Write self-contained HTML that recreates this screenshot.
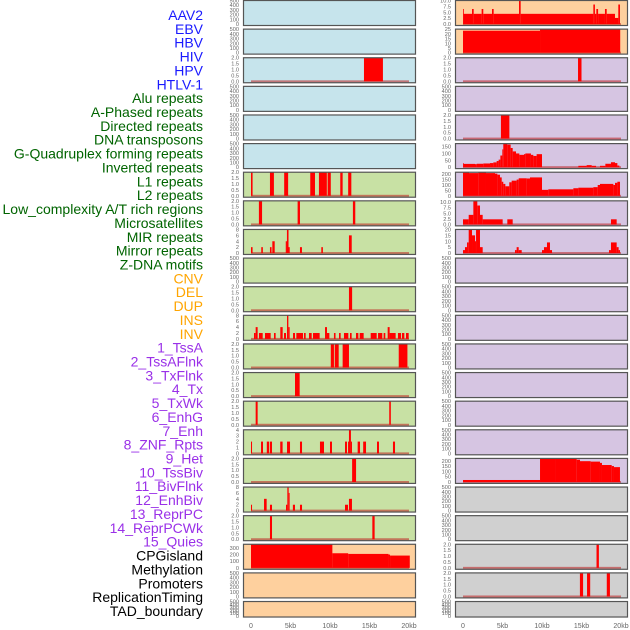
<!DOCTYPE html>
<html><head><meta charset="utf-8">
<style>
html,body{margin:0;padding:0;background:#fff;}
svg{display:block;font-family:"Liberation Sans",sans-serif;}
</style></head>
<body>
<svg id="chart" width="630" height="630" viewBox="0 0 630 630"></svg>
<script>
// ---- data (kb start, kb end, value) ----
const trackLabels = ["AAV2","EBV","HBV","HIV","HPV","HTLV-1","Alu repeats","A-Phased repeats","Directed repeats","DNA transposons","G-Quadruplex forming repeats","Inverted repeats","L1 repeats","L2 repeats","Low_complexity A/T rich regions","Microsatellites","MIR repeats","Mirror repeats","Z-DNA motifs","CNV","DEL","DUP","INS","INV","1_TssA","2_TssAFlnk","3_TxFlnk","4_Tx","5_TxWk","6_EnhG","7_Enh","8_ZNF_Rpts","9_Het","10_TssBiv","11_BivFlnk","12_EnhBiv","13_ReprPC","14_ReprPCWk","15_Quies","CPGisland","Methylation","Promoters","ReplicationTiming","TAD_boundary"];
const labelGroups = ["v","v","v","v","v","v","r","r","r","r","r","r","r","r","r","r","r","r","r","s","s","s","s","s","c","c","c","c","c","c","c","c","c","c","c","c","c","c","c","o","o","o","o","o"];
const xTickLabels = ["0","5kb","10kb","15kb","20kb"];
const xTickValues = [0,5,10,15,20];

const hbvBars = [[14.3,16.7,2]];
const aluBars = [[0,0.2,2],[2.4,2.9,2],[4.2,4.7,2],[7.5,8.1,2],[8.6,9.6,2],[9.7,10.1,2],[11.3,11.6,2],[12.3,12.7,2]];
const aphasedBars = [[1.0,1.4,2],[5.9,6.2,2],[12.9,13.2,2]];
const directedBars = [[0,0.2,2],[1.3,1.5,2],[2.4,2.6,2],[2.7,3.0,4],[4.4,4.55,4],[4.55,4.75,8],[4.75,4.9,2],[6.2,6.45,2],[8.9,9.1,2],[12.4,12.75,6]];
const gquadBars = [[12.4,12.8,2]];
const invertedBars = [[0.38,0.59,2],[0.59,0.84,4],[1.01,1.48,2],[1.77,2.49,2],[2.91,3.12,2],[3.71,4.01,4],[4.18,4.43,2],[4.56,4.73,8],[4.73,4.89,4],[5.32,5.57,2],[5.74,6.58,2],[6.71,6.92,2],[7.34,7.68,2],[7.85,8.69,2],[9.37,9.62,4],[9.62,9.92,2],[10.5,10.7,2],[11.14,11.35,2],[11.77,12.32,2],[12.53,12.74,2],[13.29,13.59,2],[13.76,14.26,2],[15.15,15.91,2],[16.08,16.62,2],[16.79,17.0,2],[17.3,17.55,4],[17.55,18.31,2],[18.6,18.99,2],[19.11,19.41,2],[19.62,19.96,2]];
const l1Bars = [[10.1,10.5,2],[10.6,11.1,2],[11.6,12.4,2],[18.7,19.8,2]];
const l2Bars = [[5.57,6.16,2]];
const lowcompBars = [[0.59,0.84,2],[17.5,17.7,2]];
const microBars = [[0,0.13,2],[1.27,1.52,2],[2.0,2.3,2],[2.4,2.66,2],[3.7,4.0,2],[4.56,4.94,2],[6.2,6.46,2],[8.73,9.24,2],[10.0,10.25,2],[11.9,12.15,2],[12.28,12.4,2],[12.4,12.65,4],[12.65,12.78,2],[13.5,13.8,2],[14.2,14.56,2],[15.95,16.2,2],[17.97,18.23,2]];
const mirBars = [[12.8,13.3,2]];
const mirrorBars = [[0,0.13,2],[1.65,1.98,4],[2.4,2.66,2],[4.43,4.6,2],[4.6,4.77,8],[4.77,4.89,6],[5.3,5.57,2],[6.2,6.46,2],[11.9,12.28,2],[12.4,12.78,4]];
const zdnaBars = [[2.4,2.66,2],[15.36,15.65,2]];
const cnvSteps = [[0,10.3,355],[10.3,12.3,220],[12.3,17.4,210],[17.4,17.6,200],[17.6,20.1,185]];
const insSteps = [[0,0.08,6.4],[0.08,1.14,4.35],[1.14,1.35,6.4],[1.35,2.36,4.35],[2.36,2.57,6.4],[2.57,3.67,4.35],[3.67,3.88,6.4],[3.88,7.09,4.35],[7.09,7.3,10],[7.3,16.5,4.35],[16.5,16.7,8.3],[16.7,16.88,4.35],[16.88,17.1,6.4],[17.1,17.97,4.35],[17.97,18.19,6.4],[18.19,19.24,4.35],[19.24,19.66,2.6],[19.66,19.87,8.3]];
const invSteps = [[0,9.75,23.3],[9.75,19.9,25]];
const tssaBars = [[14.56,15.0,2]];
const txflnkBars = [[4.8,5.87,2]];
const txSteps = [[0,0.08,29],[0.08,1.52,24],[1.52,1.73,22],[1.73,2.57,25],[2.57,3.42,27],[3.42,3.84,30],[3.84,4.26,35],[4.26,4.51,45],[4.51,4.73,55],[4.73,4.98,85],[4.98,5.1,130],[5.1,5.61,172],[5.61,6.03,165],[6.03,6.29,140],[6.29,6.71,115],[6.71,7.13,100],[7.13,7.72,90],[7.72,7.89,95],[7.89,8.6,100],[8.6,8.9,90],[8.9,9.32,82],[9.32,10.0,95],[14.6,15.65,10],[15.65,16.29,15],[16.29,16.84,10],[17.34,18.02,10],[18.02,18.73,25],[18.73,19.24,36],[19.24,19.54,30],[19.54,19.79,12]];
const txwkSteps = [[0,0.76,215],[0.76,1.94,210],[1.94,2.91,215],[2.91,4.05,210],[4.05,4.35,205],[4.35,4.68,195],[4.68,4.9,170],[4.9,5.1,130],[5.1,5.36,110],[5.36,5.86,88],[5.86,6.16,125],[6.16,6.79,140],[6.79,7.05,150],[7.05,8.06,162],[8.06,8.48,160],[8.48,10.0,170],[10.0,10.8,55],[10.8,13.97,60],[13.97,14.6,70],[14.6,16.5,75],[16.5,17.05,80],[17.05,17.34,100],[17.34,19.03,110],[19.03,19.24,100],[19.24,19.54,120],[19.54,19.87,130]];
const enhgSteps = [[0,0.72,2.3],[0.72,1.31,4.3],[1.31,1.81,10.6],[1.81,2.15,8.5],[2.15,2.49,4.3],[2.49,5.02,2.3],[5.61,6.29,2.3],[18.73,19.45,2.3]];
const enhSteps = [[0,0.25,2.5],[0.25,0.51,5],[0.51,0.72,9],[0.72,1.14,20],[1.14,1.52,15],[1.52,1.65,10],[1.65,2.15,20],[2.15,2.49,5],[6.58,6.79,2.5],[6.79,7.05,5],[7.05,7.43,2.5],[10.0,10.25,2.5],[10.25,10.63,5],[10.63,11.01,9],[11.01,11.27,2.5],[18.48,18.73,2.5],[18.73,19.45,9],[19.45,19.7,5],[19.7,19.87,2.5]];
const quiesSteps = [[0,9.75,19],[9.75,11.65,222],[11.65,14.39,218],[14.39,14.81,210],[14.81,16.16,196],[16.16,17.34,192],[17.34,17.59,180],[17.59,18.82,160],[18.82,19.11,150],[19.11,19.87,140]];
const promoterBars = [[16.9,17.2,2]];
const reptimeBars = [[14.8,15.2,2],[15.7,16.1,2],[18.2,18.6,2]];

const ticksEmpty = ["0","100","200","300","400","500"];
const ticks2 = ["0.0","0.5","1.0","1.5","2.0"];
const ticks8 = ["0","2","4","6","8"];
const ticks4 = ["0","1","2","3","4"];
const ticksCnv = ["0","100","200","300"];
const ticksIns = ["0.0","2.5","5.0","7.5","10.0"];
const ticksInv = ["0","5","10","15","20","25"];
const ticksTx = ["0","50","100","150"];
const ticksTxwk = ["0","50","100","150","200"];
const ticksEnhg = ["0.0","2.5","5.0","7.5","10.0"];
const ticksEnh = ["0","5","10","15","20"];

// ---- layout ----
const groupColor = {v:"#1a1aff", r:"#006400", s:"#ffa500", c:"#9a30e8", o:"#000000"};
const bgColor = {v:"#c6e4ec", r:"#c8e1a4", s:"#fed09e", c:"#d6c5e2", o:"#d0d0d0"};
// [col,row,group,ymax,ticks,data]
const panels = [
 [0,0,"v",500,ticksEmpty,null],[0,1,"v",500,ticksEmpty,null],[0,2,"v",2,ticks2,hbvBars],
 [0,3,"v",500,ticksEmpty,null],[0,4,"v",500,ticksEmpty,null],[0,5,"v",500,ticksEmpty,null],
 [0,6,"r",2,ticks2,aluBars],[0,7,"r",2,ticks2,aphasedBars],[0,8,"r",8,ticks8,directedBars],
 [0,9,"r",500,ticksEmpty,null],[0,10,"r",2,ticks2,gquadBars],[0,11,"r",8,ticks8,invertedBars],
 [0,12,"r",2,ticks2,l1Bars],[0,13,"r",2,ticks2,l2Bars],[0,14,"r",2,ticks2,lowcompBars],
 [0,15,"r",4,ticks4,microBars],[0,16,"r",2,ticks2,mirBars],[0,17,"r",8,ticks8,mirrorBars],
 [0,18,"r",2,ticks2,zdnaBars],[0,19,"s",355,ticksCnv,cnvSteps],[0,20,"s",500,ticksEmpty,null],
 [0,21,"s",500,ticksEmpty,null],
 [1,0,"s",10,ticksIns,insSteps],[1,1,"s",25,ticksInv,invSteps],[1,2,"c",2,ticks2,tssaBars],
 [1,3,"c",500,ticksEmpty,null],[1,4,"c",2,ticks2,txflnkBars],[1,5,"c",172,ticksTx,txSteps],
 [1,6,"c",218,ticksTxwk,txwkSteps],[1,7,"c",10.6,ticksEnhg,enhgSteps],[1,8,"c",20,ticksEnh,enhSteps],
 [1,9,"c",500,ticksEmpty,null],[1,10,"c",500,ticksEmpty,null],[1,11,"c",500,ticksEmpty,null],
 [1,12,"c",500,ticksEmpty,null],[1,13,"c",500,ticksEmpty,null],[1,14,"c",500,ticksEmpty,null],
 [1,15,"c",500,ticksEmpty,null],[1,16,"c",222,ticksTxwk,quiesSteps],
 [1,17,"o",500,ticksEmpty,null],[1,18,"o",500,ticksEmpty,null],[1,19,"o",2,ticks2,promoterBars],
 [1,20,"o",2,ticks2,reptimeBars],[1,21,"o",500,ticksEmpty,null]
];

const NS = "http://www.w3.org/2000/svg";
const svg = document.getElementById("chart");
function mk(tag, attrs, parent){ const e=document.createElementNS(NS,tag); for(const k in attrs) e.setAttribute(k,attrs[k]); (parent||svg).appendChild(e); return e; }

// labels
const labelG = mk("g",{});


trackLabels.forEach((t,i)=>{
  const el = mk("text",{x:203,y:(15+i*13.86+5).toFixed(1),"text-anchor":"end","font-size":"14",fill:groupColor[labelGroups[i]]},labelG);
  
  
  el.textContent = t;
});

const colX = [243,455], PW = 173, PITCH = 28.62;
function xs(col,kb){ return colX[col] + 8 + kb*7.9; }

panels.forEach(p=>{
  const [col,row,grp,ymax,ticks,data] = p;
  const top = row*PITCH + 0.5;
  const h = row===21 ? 15.5 : 25;
  const ymin = -0.06*ymax;
  const ys = v => top + h - (v - ymin)/(ymax - ymin)*h;
  const g = mk("g",{});
  
  
  mk("rect",{x:colX[col],y:top,width:PW,height:h,fill:bgColor[grp]},g);
  if(data){
    const bl = mk("rect",{x:xs(col,0),y:ys(0)-1,width:xs(col,20)-xs(col,0),height:2,fill:"rgba(190,30,30,0.55)"},g);
    
    
    data.forEach(s=>{
      const y1 = Math.max(ys(s[2]), top);
      const r = mk("rect",{x:xs(col,s[0]).toFixed(2),y:y1.toFixed(2),width:Math.max(0.8,xs(col,s[1])-xs(col,s[0])).toFixed(2),height:(ys(0)-y1).toFixed(2),fill:"#ff0000"},g);
      
      
    });
  }
  const fr = mk("rect",{x:colX[col]+0.5,y:top,width:PW-1,height:h,fill:"none",stroke:"#555","stroke-width":"1.2"},g);
  
  
  ticks.forEach((t,i)=>{
    const v = parseFloat(t);
    const tt = mk("text",{x:colX[col]-4,y:(ys(v)+2).toFixed(1),"text-anchor":"end","font-size":"5.6",fill:"#666"},g);
    
    
    tt.textContent = t;
  });
});

// x axes
[0,1].forEach(col=>{
  xTickValues.forEach((v,i)=>{
    const t = mk("text",{x:xs(col,v).toFixed(1),y:628,"text-anchor":"middle","font-size":"7",fill:"#666"});
    
    
    t.textContent = xTickLabels[i];
  });
});
</script>
</body></html>
